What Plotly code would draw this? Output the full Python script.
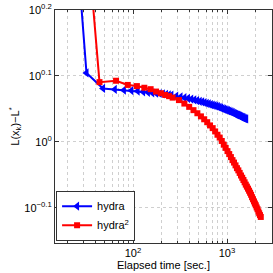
import plotly.graph_objects as go

# hydra (blue, left triangles)
hydra_time = [16, 32, 48, 64, 80, 96, 112, 128, 144, 160, 176, 192, 208, 224, 240, 256,
              288, 320, 352, 384, 416, 448, 480, 512, 544, 576, 608, 640, 672, 704, 736,
              768, 800, 832, 864, 896, 928, 960, 992, 1024, 1056, 1088, 1120, 1152, 1184,
              1216, 1248, 1280, 1312, 1344, 1376, 1408, 1440, 1472, 1504, 1536, 1568,
              1600]
hydra_val = [4.6, 1.272, 1.205, 1.201, 1.198, 1.196, 1.194, 1.191, 1.189, 1.187, 1.185,
             1.184, 1.182, 1.180, 1.178, 1.177, 1.173, 1.170, 1.167, 1.164, 1.161, 1.158,
             1.155, 1.152, 1.150, 1.147, 1.144, 1.142, 1.139, 1.137, 1.135, 1.133, 1.131,
             1.128, 1.126, 1.123, 1.121, 1.119, 1.117, 1.115, 1.113, 1.111, 1.109, 1.107,
             1.105, 1.103, 1.101, 1.099, 1.098, 1.096, 1.094, 1.092, 1.090, 1.089, 1.087,
             1.085, 1.084, 1.083]

# hydra^2 (red, squares)
hydra2_time = [22, 44, 66, 88, 110, 132, 154, 176, 198, 220, 242, 264, 308, 352, 396,
               440, 484, 528, 572, 616, 660, 704, 748, 792, 836, 880, 924, 968, 1012,
               1056, 1100, 1144, 1188, 1232, 1276, 1320, 1364, 1408, 1452, 1496, 1540,
               1584, 1628, 1672, 1716, 1760, 1804, 1848, 1892, 1936, 1980, 2024, 2068,
               2112, 2156, 2200, 2244, 2288]
hydra2_val = [4.0, 1.232, 1.238, 1.220, 1.215, 1.208, 1.202, 1.192, 1.185, 1.178, 1.173,
              1.167, 1.157, 1.143, 1.130, 1.117, 1.105, 1.093, 1.082, 1.071, 1.059, 1.049,
              1.037, 1.025, 1.015, 1.003, 0.990, 0.979, 0.968, 0.958, 0.948, 0.938, 0.930,
              0.921, 0.912, 0.905, 0.897, 0.889, 0.882, 0.875, 0.868, 0.861, 0.855, 0.849,
              0.843, 0.837, 0.831, 0.824, 0.818, 0.812, 0.806, 0.801, 0.795, 0.790, 0.784,
              0.779, 0.774, 0.769]

x_tickvals = [100, 1000]
x_ticktext = ["10<sup>2</sup>", "10<sup>3</sup>"]
x_minorvals = [20, 30, 40, 50, 60, 70, 80, 90, 200, 300, 400, 500, 600, 700, 800, 900,
               2000, 3000]
y_tickvals = [10 ** -0.1, 10 ** 0, 10 ** 0.1, 10 ** 0.2]
y_ticktext = ["10<sup>\u22120.1</sup>", "10<sup>0</sup>", "10<sup>0.1</sup>", "10<sup>0.2</sup>"]

FONT = "Liberation Sans, Arial, Helvetica, sans-serif"

fig = go.Figure()
fig.add_trace(go.Scatter(
    x=hydra_time, y=hydra_val, mode="lines+markers", name="hydra",
    line=dict(color="#0000ff", width=2),
    marker=dict(symbol="triangle-left", size=8, color="#0000ff"),
))
fig.add_trace(go.Scatter(
    x=hydra2_time, y=hydra2_val, mode="lines+markers", name="hydra<sup>2</sup>",
    line=dict(color="#ff0000", width=2),
    marker=dict(symbol="square", size=6, color="#ff0000"),
))

grid_color = "#cfcfcf"
fig.update_layout(
    width=273, height=273,
    margin=dict(l=55, r=1, t=10, b=30, autoexpand=False),
    paper_bgcolor="white", plot_bgcolor="white",
    font=dict(family=FONT, size=10, color="black"),
    showlegend=True,
    legend=dict(x=0.005, y=0.01, xanchor="left", yanchor="bottom",
                bgcolor="white", bordercolor="#333333", borderwidth=1,
                font=dict(size=11), itemwidth=30, tracegroupgap=0),
    xaxis=dict(
        type="log", range=[1.1702, 3.4787], automargin=False,
        tickvals=x_tickvals, ticktext=x_ticktext,
        ticks="inside", ticklen=4, tickcolor="#333333",
        showline=True, linecolor="#333333", linewidth=1, mirror="ticks",
        showgrid=True, gridcolor=grid_color, griddash="dot", gridwidth=1,
        minor=dict(tickvals=x_minorvals, showgrid=True, gridcolor=grid_color,
                   griddash="dot", ticks="inside", ticklen=2, tickcolor="#333333"),
        zeroline=False,
        title=dict(text="Elapsed time [sec.]", standoff=0, font=dict(size=11)),
        tickfont=dict(size=11),
    ),
    yaxis=dict(
        type="log", range=[-0.1536, 0.2001], automargin=False,
        tickvals=y_tickvals, ticktext=y_ticktext,
        ticks="inside", ticklen=4, tickcolor="#333333",
        showline=True, linecolor="#333333", linewidth=1, mirror="ticks",
        showgrid=True, gridcolor=grid_color, griddash="dot", gridwidth=1,
        zeroline=False,
        title=dict(text="L(x<sub>k</sub>)\u2212L<sup>*</sup>", standoff=2, font=dict(size=11)),
        tickfont=dict(size=11),
    ),
)

fig.write_html("out.html", config={"displayModeBar": False},
               post_script="document.body.style.margin='0px';")
